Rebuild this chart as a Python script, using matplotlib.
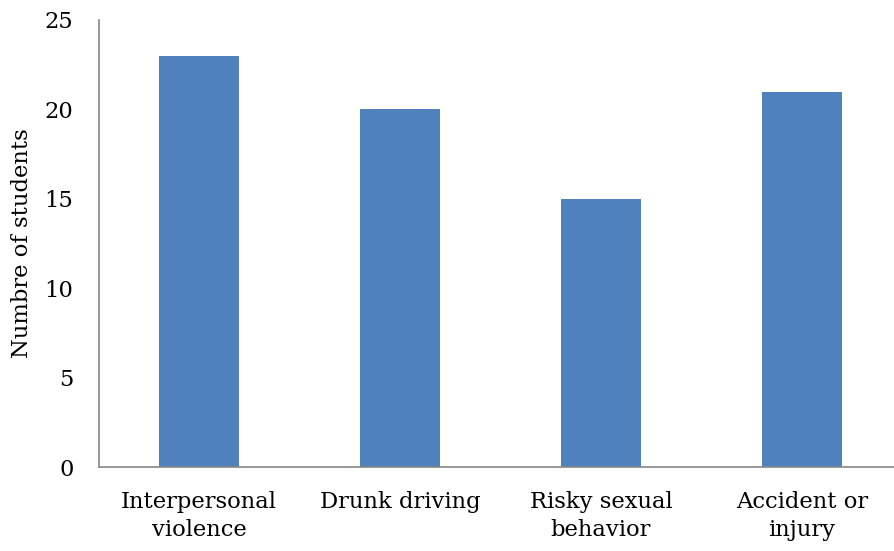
import matplotlib
matplotlib.use("Agg")
import matplotlib.pyplot as plt

categories = ["Interpersonal\nviolence", "Drunk driving", "Risky sexual\nbehavior", "Accident or\ninjury"]
students = [23, 20, 15, 21]
y_ticks = [0, 5, 10, 15, 20, 25]

plt.rcParams["font.family"] = ["DejaVu Serif"]
FS = 16.3

W, H, DPI = 894, 551, 100
fig = plt.figure(figsize=(W / DPI, H / DPI), dpi=DPI)
left, right, bottom, top = 98.5, 894, 467, 20
ax = fig.add_axes([left / W, 1 - bottom / H, (right - left) / W, (bottom - top) / H])

x = list(range(len(categories)))
ax.bar(x, students, width=0.4, color="#4F81BD", zorder=2)

ax.set_xlim(-0.5, 3.458)
ax.set_ylim(0, 25)
ax.set_yticks(y_ticks)
ax.set_xticks(x)
ax.set_xticklabels(categories, fontsize=FS, linespacing=1.35)
ax.tick_params(axis="y", length=0, pad=18, labelsize=FS)
ax.tick_params(axis="x", length=0, pad=17)
for s in ["top", "right"]:
    ax.spines[s].set_visible(False)
for s in ["left", "bottom"]:
    ax.spines[s].set_color("#868686")
    ax.spines[s].set_linewidth(1.2)

ax.set_ylabel("Numbre of students", fontsize=FS)
ax.yaxis.set_label_coords(-0.082, 0.5)

fig.savefig("out.png", dpi=DPI)
